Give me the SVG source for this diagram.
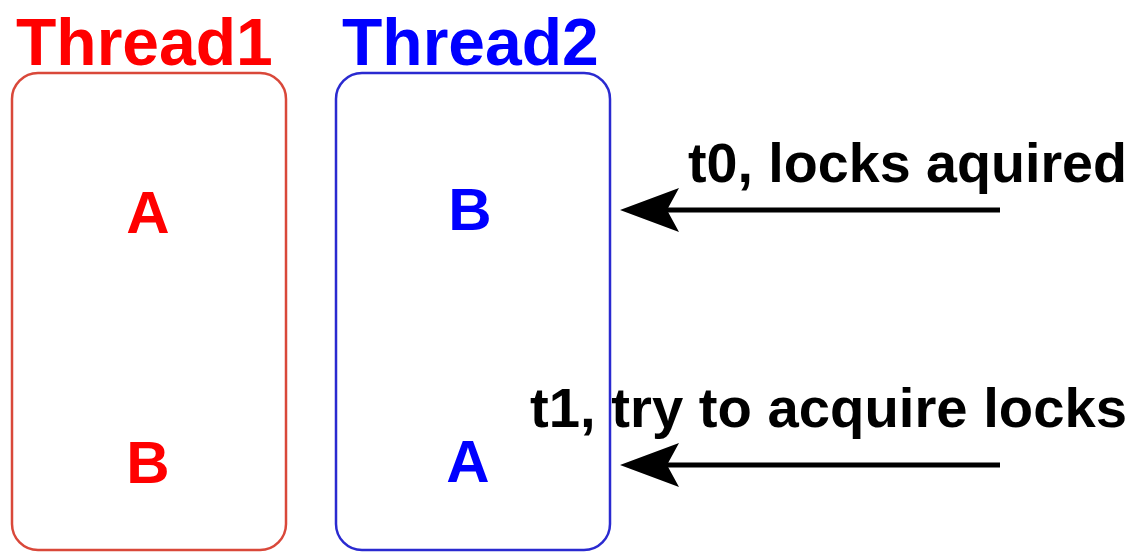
<svg xmlns="http://www.w3.org/2000/svg" width="1134" height="553" viewBox="0 0 1134 553">
  <style>
    .lbl { font-family: "Liberation Sans", Arial, sans-serif; font-weight: bold; }
    .title { font-size: 66px; }
    .lock { font-size: 60px; text-anchor: middle; }
    .note { font-size: 55px; fill: #000; }
    .red { fill: #ff0000; }
    .blue { fill: #0000ff; }
    .box { fill: #fff; stroke-width: 2.5; }
    .conn { stroke: #000; stroke-width: 5; fill: none; marker-end: url(#ah); }
  </style>
  <defs>
    <marker id="ah" viewBox="0 0 60 46" refX="15" refY="23" markerWidth="60" markerHeight="46" markerUnits="userSpaceOnUse" orient="auto">
      <path d="M60,23 L1,1 L13,23 L1,45 Z" fill="#000"/>
    </marker>
  </defs>
  <rect width="1134" height="553" fill="#fff"/>
  <g id="thread1">
    <text class="lbl title red" x="16" y="65">Thread1</text>
    <rect class="box" x="12" y="73" width="274" height="477" rx="26" stroke="#d9483a"/>
    <text class="lbl lock red" x="148" y="233">A</text>
    <text class="lbl lock red" x="148" y="483">B</text>
  </g>
  <g id="thread2">
    <text class="lbl title blue" x="342" y="65">Thread2</text>
    <rect class="box" x="336" y="73" width="274" height="477" rx="26" stroke="#2a2ad0"/>
    <text class="lbl lock blue" x="470" y="230">B</text>
    <text class="lbl lock blue" x="468" y="482">A</text>
  </g>
  <g id="labels">
    <text class="lbl note" x="688" y="182" textLength="439" lengthAdjust="spacingAndGlyphs">t0, locks aquired</text>
    <text class="lbl note" x="530" y="427" textLength="597" lengthAdjust="spacingAndGlyphs">t1, try to acquire locks</text>
  </g>
  <g id="connectors">
    <line class="conn" x1="1000" y1="210" x2="665" y2="210"/>
    <line class="conn" x1="1000" y1="465" x2="665" y2="465"/>
  </g>
</svg>
